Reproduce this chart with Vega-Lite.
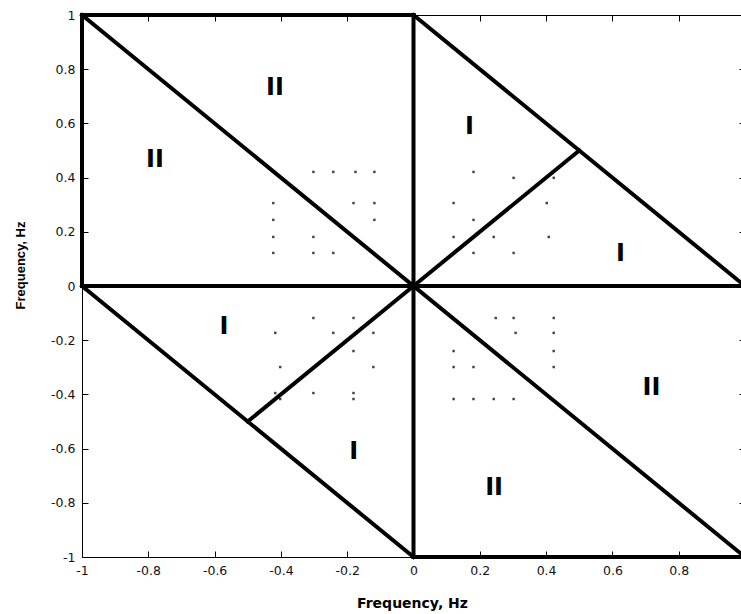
{
  "$schema": "https://vega.github.io/schema/vega-lite/v6.json",
  "width": 663,
  "height": 542,
  "autosize": {"type": "none"},
  "padding": {"left": 82, "top": 15, "right": -4, "bottom": 57},
  "background": "white",
  "config": {
    "view": {"stroke": null},
    "axis": {
      "grid": false,
      "domainColor": "black",
      "domainWidth": 1,
      "tickColor": "black",
      "tickWidth": 1,
      "tickSize": -6,
      "labelColor": "#111111",
      "titleColor": "black",
      "labelFont": "DejaVu Sans",
      "labelFontSize": 12.5,
      "labelFlush": false,
      "labelOverlap": false,
      "labelBound": false
    }
  },
  "datasets": {
    "segments": [
      {"seg": "a", "o": 0, "x": -1, "y": 1}, {"seg": "a", "o": 1, "x": 0, "y": 1},
      {"seg": "b", "o": 0, "x": -1, "y": 1}, {"seg": "b", "o": 1, "x": -1, "y": 0},
      {"seg": "c", "o": 0, "x": 0, "y": 1}, {"seg": "c", "o": 1, "x": 0, "y": -1},
      {"seg": "d", "o": 0, "x": -1, "y": 0}, {"seg": "d", "o": 1, "x": 1, "y": 0},
      {"seg": "e", "o": 0, "x": 0, "y": -1}, {"seg": "e", "o": 1, "x": 1, "y": -1},
      {"seg": "f", "o": 0, "x": -1, "y": 1}, {"seg": "f", "o": 1, "x": 1, "y": -1},
      {"seg": "g", "o": 0, "x": 0, "y": 1}, {"seg": "g", "o": 1, "x": 1, "y": 0},
      {"seg": "h", "o": 0, "x": -1, "y": 0}, {"seg": "h", "o": 1, "x": 0, "y": -1},
      {"seg": "i", "o": 0, "x": 0, "y": 0}, {"seg": "i", "o": 1, "x": 0.5, "y": 0.5},
      {"seg": "j", "o": 0, "x": 0, "y": 0}, {"seg": "j", "o": 1, "x": -0.5, "y": -0.5}
    ],
    "dots": [
      {"x": -0.302, "y": 0.421}, {"x": -0.242, "y": 0.421}, {"x": -0.175, "y": 0.421}, {"x": -0.118, "y": 0.421},
      {"x": -0.423, "y": 0.306}, {"x": -0.181, "y": 0.306}, {"x": -0.118, "y": 0.306},
      {"x": -0.423, "y": 0.244}, {"x": -0.118, "y": 0.244},
      {"x": -0.423, "y": 0.181}, {"x": -0.302, "y": 0.181},
      {"x": -0.423, "y": 0.122}, {"x": -0.302, "y": 0.122}, {"x": -0.242, "y": 0.122},
      {"x": 0.181, "y": 0.421}, {"x": 0.302, "y": 0.399}, {"x": 0.423, "y": 0.399},
      {"x": 0.121, "y": 0.306}, {"x": 0.402, "y": 0.306},
      {"x": 0.181, "y": 0.244},
      {"x": 0.121, "y": 0.181}, {"x": 0.242, "y": 0.181}, {"x": 0.408, "y": 0.181},
      {"x": 0.181, "y": 0.122}, {"x": 0.302, "y": 0.122},
      {"x": -0.302, "y": -0.118}, {"x": -0.181, "y": -0.118},
      {"x": -0.417, "y": -0.173}, {"x": -0.242, "y": -0.173}, {"x": -0.121, "y": -0.173},
      {"x": -0.181, "y": -0.24},
      {"x": -0.402, "y": -0.299}, {"x": -0.121, "y": -0.299},
      {"x": -0.417, "y": -0.395}, {"x": -0.302, "y": -0.395}, {"x": -0.181, "y": -0.395},
      {"x": -0.402, "y": -0.417}, {"x": -0.181, "y": -0.417},
      {"x": 0.248, "y": -0.118}, {"x": 0.302, "y": -0.118}, {"x": 0.423, "y": -0.118},
      {"x": 0.308, "y": -0.173}, {"x": 0.423, "y": -0.173},
      {"x": 0.121, "y": -0.24}, {"x": 0.423, "y": -0.24},
      {"x": 0.121, "y": -0.299}, {"x": 0.181, "y": -0.299}, {"x": 0.423, "y": -0.299},
      {"x": 0.121, "y": -0.417}, {"x": 0.181, "y": -0.417}, {"x": 0.242, "y": -0.417}, {"x": 0.302, "y": -0.417}
    ],
    "labels": [
      {"label": "II", "x": -0.418, "y": 0.731},
      {"label": "II", "x": -0.78, "y": 0.465},
      {"label": "I", "x": 0.169, "y": 0.588},
      {"label": "I", "x": 0.624, "y": 0.118},
      {"label": "I", "x": -0.572, "y": -0.153},
      {"label": "I", "x": -0.18, "y": -0.613},
      {"label": "II", "x": 0.718, "y": -0.378},
      {"label": "II", "x": 0.243, "y": -0.745}
    ]
  },
  "layer": [
    {
      "data": {"name": "segments"},
      "mark": {"type": "line", "color": "black", "strokeWidth": 4, "strokeCap": "square"},
      "encoding": {
        "x": {
          "field": "x", "type": "quantitative",
          "scale": {"domain": [-1, 1], "nice": false, "zero": false},
          "axis": {
            "orient": "bottom",
            "values": [-1, -0.8, -0.6, -0.4, -0.2, 0, 0.2, 0.4, 0.6, 0.8],
            "labelExpr": "'' + datum.value",
            "labelPadding": 13,
            "title": "Frequency, Hz",
            "titleFont": "DejaVu Sans",
            "titleFontSize": 14,
            "titleFontWeight": "bold",
            "titleX": 330,
            "titleY": 50,
            "titleBaseline": "alphabetic"
          }
        },
        "y": {
          "field": "y", "type": "quantitative",
          "scale": {"domain": [-1, 1], "nice": false, "zero": false},
          "axis": {
            "orient": "left",
            "values": [-1, -0.8, -0.6, -0.4, -0.2, 0, 0.2, 0.4, 0.6, 0.8, 1],
            "labelExpr": "'' + datum.value",
            "labelPadding": 13,
            "title": "Frequency, Hz",
            "titleFont": "Liberation Sans",
            "titleFontSize": 13,
            "titleFontWeight": "bold",
            "titleX": -57.5,
            "titleY": 250,
            "titleBaseline": "alphabetic"
          }
        },
        "detail": {"field": "seg"},
        "order": {"field": "o"}
      }
    },
    {
      "data": {"name": "dots"},
      "mark": {"type": "point", "shape": "square", "filled": true, "size": 6, "color": "#222222", "opacity": 0.85},
      "encoding": {
        "x": {
          "field": "x", "type": "quantitative",
          "scale": {"domain": [-1, 1], "nice": false, "zero": false},
          "axis": {"orient": "top", "values": [-1, -0.8, -0.6, -0.4, -0.2, 0, 0.2, 0.4, 0.6, 0.8, 1], "labels": false, "title": null}
        },
        "y": {
          "field": "y", "type": "quantitative",
          "scale": {"domain": [-1, 1], "nice": false, "zero": false},
          "axis": {"orient": "right", "values": [-1, -0.8, -0.6, -0.4, -0.2, 0, 0.2, 0.4, 0.6, 0.8, 1], "labels": false, "title": null}
        }
      }
    },
    {
      "data": {"name": "labels"},
      "mark": {"type": "text", "font": "DejaVu Sans", "fontSize": 24, "fontWeight": "bold", "color": "black", "align": "center", "baseline": "middle"},
      "encoding": {
        "x": {"field": "x", "type": "quantitative", "scale": {"domain": [-1, 1], "nice": false, "zero": false}, "axis": null},
        "y": {"field": "y", "type": "quantitative", "scale": {"domain": [-1, 1], "nice": false, "zero": false}, "axis": null},
        "text": {"field": "label"}
      }
    }
  ],
  "resolve": {"axis": {"x": "independent", "y": "independent"}}
}
